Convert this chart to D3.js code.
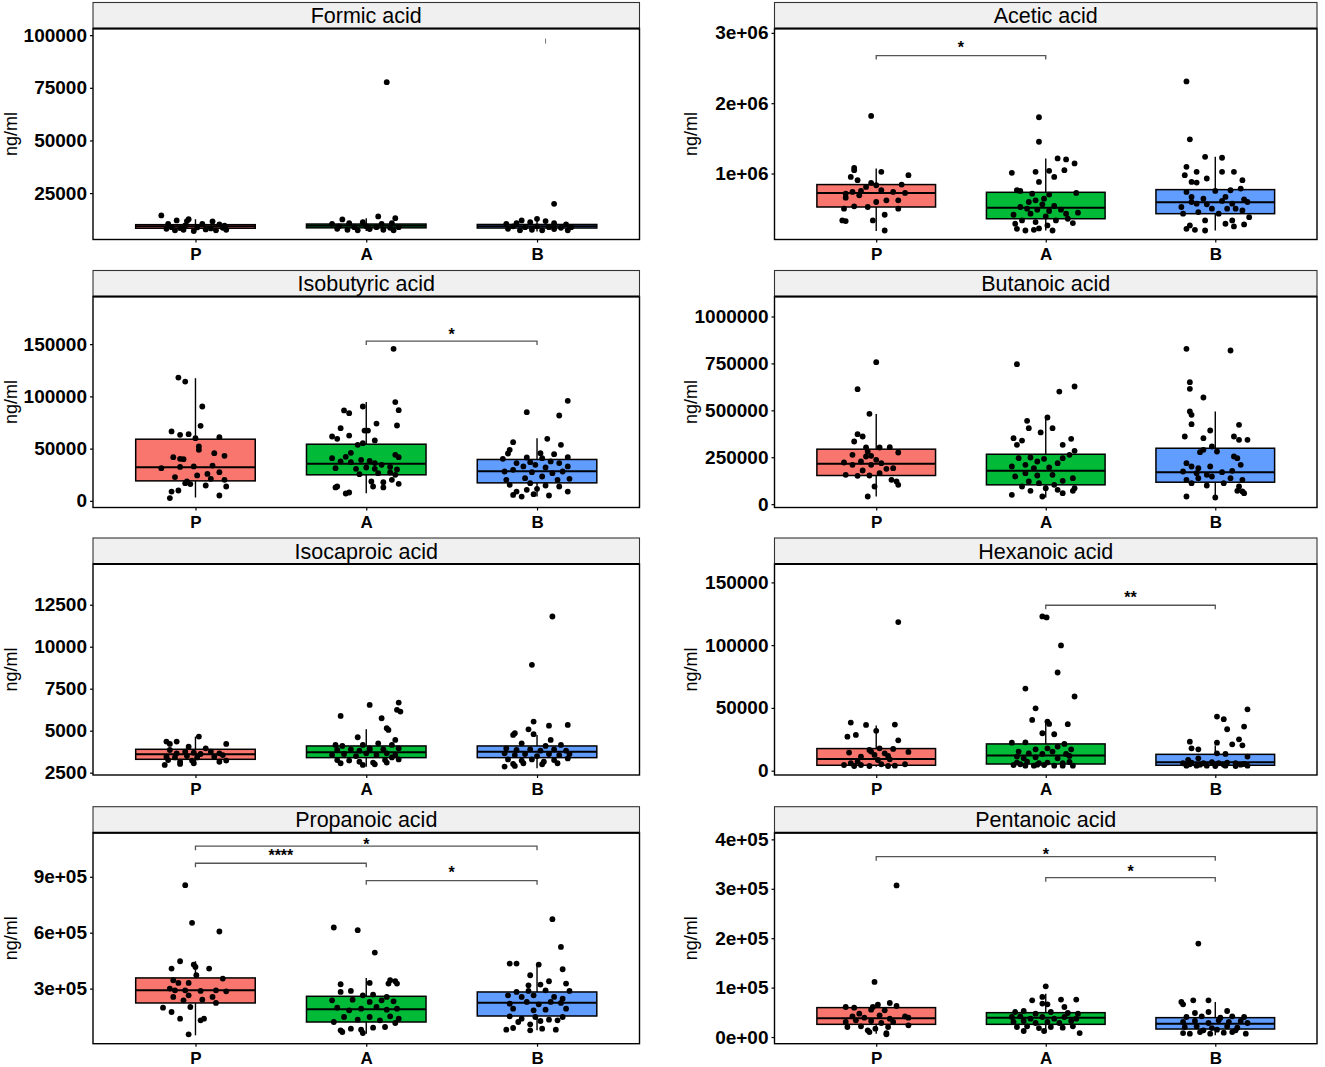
<!DOCTYPE html>
<html><head><meta charset="utf-8">
<script src="https://cdn.jsdelivr.net/npm/d3@7"></script>
<style>
body{margin:0;background:#fff}
svg{display:block}
text{font-family:"Liberation Sans",Arial,Helvetica,sans-serif}
</style>
</head><body>
<svg id="chart" width="1325" height="1067"></svg>
<script>
const acids = ["Formic acid","Acetic acid","Isobutyric acid","Butanoic acid","Isocaproic acid","Hexanoic acid","Propanoic acid","Pentanoic acid"];
const groups = ["P","A","B"];
const groupColors = ["#F8766D","#00BA38","#619CFF"];
const yAxisTitle = "ng/ml";

const yDomains = [[2960,103170],[61900,3062000],[-6380,195600],[-17760,1106500],[2361,14925],[-3460,164650],[4500,1136400],[-13500,413500]];
const yTickValues = [
  [25000,50000,75000,100000],
  [1e6,2e6,3e6],
  [0,50000,100000,150000],
  [0,250000,500000,750000,1000000],
  [2500,5000,7500,10000,12500],
  [0,50000,100000,150000],
  [3e5,6e5,9e5],
  [0,1e5,2e5,3e5,4e5]
];
const yTickLabels = [
  ["25000","50000","75000","100000"],
  ["1e+06","2e+06","3e+06"],
  ["0","50000","100000","150000"],
  ["0","250000","500000","750000","1000000"],
  ["2500","5000","7500","10000","12500"],
  ["0","50000","100000","150000"],
  ["3e+05","6e+05","9e+05"],
  ["0e+00","1e+05","2e+05","3e+05","4e+05"]
];

// [lower whisker, Q1, median, Q3, upper whisker] for P, A, B
const boxStats = [
  [[6500,8300,9200,10000,12600],[7000,8500,9500,10300,13100],[6800,8400,9300,10100,12800]],
  [[181000,524000,724000,843000,1071000],[190000,357000,514000,733000,1214000],[190000,429000,590000,771000,1238000]],
  [[3200,19100,32200,59000,117400],[7300,24900,35400,54200,94500],[4100,17200,28400,39600,60000]],
  [[40800,152700,215000,293000,481000],[35000,103000,177600,266000,467000],[35500,117000,170500,298000,494000]],
  [[2957,3295,3593,3892,4647],[2858,3395,3713,4090,5084],[2758,3395,3752,4090,4746]],
  [[3200,4300,9300,17600,35900],[3200,5300,12000,21300,39100],[3200,4300,6650,13000,20000]],
  [[49300,223000,291000,357300,446900],[58200,120900,189000,258800,357300],[76100,153100,224800,282000,429000]],
  [[6800,25700,37800,59500,68000],[8100,25700,39200,49300,87800],[3400,16200,27000,39200,71000]]
];

// jittered points: [offset in category units, value]
const formicPoints = [
  [[-0.2,14400],[-0.04,12600],[-0.05,11700],[-0.11,12000],[0.1,11500],[-0.16,10400],[-0.06,9600],[0.04,10400],[0.14,10100],[0.17,9500],[-0.17,8050],[-0.12,7300],[-0.07,7600],[-0.01,7000],[0.06,7750],[0.12,7300],[0.18,7600],[-0.14,8800],[-0.09,8400],[0.01,8700],[0.09,8200],[0.16,8500]],
  [[0.12,77700],[0.07,13900],[0.17,13100],[-0.14,12500],[-0.2,10400],[-0.1,10700],[-0.02,11200],[0.09,10400],[0.15,10700],[-0.17,8050],[-0.11,7600],[-0.05,7300],[0.02,7900],[0.1,7600],[0.16,7300],[-0.16,9200],[-0.07,8800],[0,9200],[0.06,8800],[0.14,8500],[0.19,8800]],
  [[0.1,19900],[0,12800],[-0.09,12000],[0.05,11700],[-0.18,10400],[-0.12,10700],[-0.04,11200],[0.1,10700],[0.17,10100],[-0.17,8050],[-0.1,7300],[-0.03,7600],[0.03,7300],[0.1,7900],[0.18,7300],[-0.14,9200],[-0.07,8800],[0,9200],[0.07,8800],[0.14,8500],[0.2,8800]]
];
const aceticPoints = [
  [[-0.03,1819000],[-0.13,1081000],[-0.13,1048000],[0.03,1024000],[0.19,976000],[-0.15,952000],[-0.11,905000],[-0.03,867000],[0,833000],[-0.06,810000],[0.15,843000],[-0.18,714000],[-0.14,738000],[-0.09,752000],[0.03,762000],[0.1,738000],[0.17,724000],[-0.18,657000],[-0.1,690000],[0,595000],[0.06,619000],[0.13,619000],[-0.13,533000],[-0.05,524000],[-0.19,500000],[0.13,500000],[0.05,414000],[-0.2,333000],[-0.18,324000],[-0.02,333000],[0.05,190000]],
  [[-0.04,1800000],[-0.04,1452000],[0.07,1214000],[0.12,1200000],[0.17,1143000],[0.11,1048000],[-0.2,1010000],[-0.06,1024000],[0.02,1038000],[-0.04,881000],[0.05,952000],[-0.17,762000],[-0.15,752000],[-0.08,714000],[0.02,700000],[0.18,724000],[-0.06,619000],[-0.01,643000],[-0.15,524000],[-0.11,500000],[-0.02,562000],[0.05,538000],[0.09,486000],[0.12,429000],[0.19,443000],[-0.19,414000],[-0.09,429000],[0,390000],[-0.14,333000],[-0.06,310000],[0.06,333000],[0.13,357000],[-0.17,214000],[-0.12,190000],[-0.07,200000],[-0.04,219000],[0.04,190000],[-0.18,286000],[0.01,262000],[0.16,295000],[-0.05,486000],[0.02,467000],[-0.1,595000]],
  [[-0.17,2310000],[-0.15,1486000],[-0.06,1238000],[0.04,1224000],[-0.17,1095000],[-0.11,1024000],[-0.18,976000],[0.04,1024000],[0.11,1024000],[-0.05,929000],[-0.14,881000],[-0.11,871000],[0.16,905000],[-0.17,738000],[0,752000],[0.09,762000],[0.15,786000],[-0.14,667000],[-0.07,643000],[0.06,667000],[0.17,633000],[-0.14,595000],[-0.11,571000],[-0.05,562000],[0.04,610000],[0.1,571000],[0.19,595000],[-0.2,524000],[-0.02,500000],[0.07,500000],[0.12,500000],[-0.19,429000],[-0.1,452000],[0.02,429000],[0.16,476000],[-0.06,333000],[0.1,333000],[0.2,380000],[-0.15,262000],[0.06,286000],[0.17,276000],[-0.17,214000],[-0.12,200000],[-0.06,190000],[0.11,248000]]
];
const isobutyricPoints = [
  [[-0.1,118000],[-0.06,114200],[0.04,90300],[0.03,71800],[-0.14,66400],[-0.09,63200],[-0.04,63800],[0,60000],[0.14,60900],[0.02,52000],[0.02,48800],[-0.13,41800],[-0.09,40200],[-0.07,39900],[0.11,45600],[0.17,43100],[-0.2,31300],[-0.09,32500],[-0.01,32900],[0.1,33800],[-0.12,22700],[0.01,24300],[0.07,25800],[0.14,27400],[-0.06,16900],[0.09,21100],[0.17,20100],[-0.1,9900],[-0.14,8900],[0.06,14700],[0.18,13700],[-0.15,2600],[0.14,5100],[-0.05,18500],[-0.03,16000]],
  [[0.16,145500],[0.17,94500],[0.19,86800],[-0.02,90300],[-0.13,86500],[-0.1,83900],[0.06,74000],[0.18,72100],[-0.15,69600],[-0.1,62500],[-0.2,61600],[-0.17,59400],[-0.01,67300],[0.01,67300],[0.05,57800],[-0.05,53600],[-0.02,55200],[-0.09,46000],[-0.12,42100],[0.17,44000],[0.19,41800],[-0.2,40800],[-0.15,37700],[-0.09,37000],[-0.03,39200],[0.02,38300],[0.05,36100],[0.09,34500],[0.14,32500],[-0.18,31300],[-0.06,30600],[0,31900],[0.05,30600],[0.18,30000],[-0.04,25500],[0.07,26500],[0.14,27100],[0.17,24900],[0.03,18500],[0.1,17900],[0.15,20100],[0.19,16300],[-0.17,13700],[-0.18,12800],[0.04,13700],[0.1,12800],[-0.1,8000],[-0.12,7000]],
  [[0.18,95700],[-0.06,84900],[0.13,81700],[-0.14,56200],[0.06,59400],[0.14,53600],[-0.16,48800],[-0.17,45300],[0.02,45600],[0.1,44700],[-0.2,40200],[-0.06,41500],[0.03,40800],[0.18,41800],[-0.12,36100],[-0.04,37000],[0.08,37700],[0.13,36100],[-0.08,32900],[-0.01,34500],[0.05,31900],[0.18,32900],[-0.19,28100],[-0.14,29700],[-0.03,27400],[0.09,26500],[0.15,28100],[-0.18,20100],[-0.07,21700],[0.03,23300],[0.12,20100],[0.19,21100],[-0.16,15300],[-0.04,16900],[0.05,14700],[0.13,13700],[-0.12,8900],[-0.06,10500],[0,11500],[0.18,8900],[-0.14,5700],[-0.09,4100],[-0.02,6400],[0.07,5100]]
];
const butanoicPoints = [
  [[0,756600],[-0.11,612700],[-0.04,481300],[-0.11,373000],[-0.08,360500],[-0.13,334000],[-0.06,302000],[0.02,302000],[0.08,303700],[-0.05,280600],[0.13,275300],[-0.03,257500],[-0.19,222000],[-0.14,209600],[-0.09,227300],[-0.03,209600],[0,236200],[0.03,218400],[0.1,191800],[-0.18,156300],[-0.11,151000],[-0.04,152700],[0.02,165200],[0.09,129600],[0.12,120800],[0.13,103000],[-0.01,94100],[-0.05,40800],[-0.14,262900],[-0.06,254000],[0.06,188300],[-0.08,179400]],
  [[-0.17,746000],[0.17,627000],[0.08,600000],[0.01,461800],[-0.11,444000],[-0.1,405000],[0.04,405000],[-0.03,382000],[-0.19,351600],[-0.17,316100],[-0.14,339000],[0.15,348000],[0.1,316100],[0.17,284000],[0.14,263000],[-0.16,245000],[-0.09,248600],[-0.05,227300],[-0.01,241500],[0.07,218400],[0.1,245000],[-0.2,200700],[-0.12,209600],[-0.07,191800],[0.02,195400],[-0.18,147400],[-0.12,165200],[-0.05,152700],[0.04,156300],[0.16,138500],[-0.1,120800],[-0.04,111900],[0.05,103000],[0.1,124300],[-0.14,94100],[0,85200],[0.07,76400],[0.16,71000],[0.17,85200],[-0.2,49700],[-0.09,71000],[-0.02,40800],[0.1,58600]],
  [[-0.17,827600],[0.09,818700],[-0.15,650000],[-0.15,614500],[-0.07,568300],[-0.15,493700],[-0.14,476000],[-0.14,426000],[0.14,422700],[-0.18,360500],[-0.03,392500],[0.11,360500],[-0.07,351600],[0.14,342800],[0.19,342800],[-0.02,307200],[-0.07,289500],[0.01,280600],[-0.09,277100],[0.11,254000],[0.13,245000],[-0.17,218400],[-0.14,200700],[-0.1,191800],[-0.03,200700],[0.15,209600],[-0.19,174000],[-0.11,165200],[-0.05,156300],[0.04,170500],[0.1,177600],[-0.17,129600],[-0.1,138500],[-0.02,147400],[0.09,138500],[0.16,129600],[-0.14,111900],[-0.05,99500],[0.05,111900],[0.14,94100],[0.16,67500],[0.17,58600],[0.13,71000],[-0.17,40800],[0,35500]]
];
const isocaproicPoints = [
  [[0.02,4647],[-0.11,4350],[-0.17,4350],[-0.15,4210],[0.18,4210],[-0.04,4050],[0.06,3950],[-0.15,3850],[-0.11,3650],[-0.06,3750],[-0.01,3690],[0.03,3610],[0.09,3750],[0.14,3650],[0.16,3550],[-0.17,3450],[-0.12,3410],[-0.05,3490],[0.01,3410],[0.11,3450],[-0.16,3250],[-0.09,3150],[-0.02,3220],[0.14,3150],[0.18,3220],[-0.18,2960],[-0.09,3020],[-0.01,3060]],
  [[0.19,6675],[0.02,6535],[0.18,6240],[0.2,6140],[-0.15,5880],[0.09,5740],[0.12,5145],[0.13,5045],[-0.05,4610],[0.17,4450],[-0.18,4150],[-0.14,4090],[-0.02,4150],[0.07,4250],[0.15,4150],[-0.17,3850],[-0.09,3890],[-0.04,3810],[0.02,3850],[0.1,3890],[0.19,3950],[-0.2,3550],[-0.13,3610],[-0.06,3490],[0,3650],[0.06,3550],[0.12,3650],[0.17,3550],[-0.17,3250],[-0.1,3220],[-0.04,3150],[0.04,3100],[0.11,3250],[0.19,3290],[-0.15,3060],[-0.02,2960],[0.05,3000],[0.12,3100],[0.02,3950],[0.15,3410]],
  [[0.09,11800],[-0.03,8920],[-0.02,5540],[0.18,5340],[0.07,5300],[-0.05,5080],[-0.02,4790],[-0.13,4850],[-0.14,4750],[0.08,4450],[-0.09,4250],[0.05,4090],[0.14,4150],[-0.18,3950],[-0.12,3850],[-0.04,3890],[0.02,3810],[0.1,3890],[0.17,3810],[-0.19,3650],[-0.13,3550],[-0.07,3610],[0,3490],[0.07,3610],[0.13,3550],[0.19,3610],[-0.17,3290],[-0.09,3220],[-0.03,3290],[0.04,3150],[0.1,3250],[0.18,3350],[-0.14,3020],[-0.08,3060],[0.03,3000],[0.12,3060],[-0.19,2860],[-0.13,2900]]
];
const hexanoicPoints = [
  [[0.13,118400],[-0.15,38300],[-0.06,36400],[0.11,36700],[-0.17,27100],[-0.12,28500],[0,31700],[0.13,24200],[0.1,17300],[0.02,17800],[-0.04,16500],[-0.16,14400],[-0.03,15200],[0.19,14900],[0.05,13800],[0.07,11700],[-0.09,11200],[-0.01,12500],[-0.11,7200],[0.01,8500],[0.08,9000],[-0.19,4500],[-0.15,5900],[-0.09,4500],[-0.04,3700],[0.03,5100],[0.11,4000],[0.17,5100],[-0.13,3700],[0.07,3700]],
  [[-0.02,122900],[0.005,122100],[0.09,99800],[0.07,78200],[-0.12,65400],[0.17,59100],[-0.06,49700],[-0.08,40400],[0.01,39100],[0.02,37200],[0.13,37000],[-0.02,29800],[0.05,29000],[-0.2,22300],[-0.12,22600],[0.11,21300],[-0.06,17000],[0.01,17800],[0.07,19200],[0.15,17000],[-0.16,15200],[-0.1,13800],[-0.02,13300],[0.04,15200],[0.12,13300],[-0.17,11200],[-0.13,9800],[-0.06,10600],[0.07,9800],[0.14,11700],[-0.17,6400],[-0.11,7200],[-0.04,5900],[0.01,6400],[0.1,5900],[0.14,6900],[-0.19,4500],[-0.12,4000],[-0.07,4000],[-0.01,4500],[0.05,4000],[0.1,4000],[0.16,4000],[-0.15,5100],[-0.05,4800]],
  [[0.19,48900],[0.01,43100],[0.05,41000],[0.07,33000],[0.17,35100],[0.14,25000],[-0.15,23100],[0.01,22300],[0.16,20200],[0.1,21000],[-0.14,17800],[-0.1,17000],[0.01,13800],[0.06,13300],[-0.16,8500],[-0.1,9800],[0.19,11200],[-0.19,5900],[-0.14,6400],[-0.07,5900],[-0.02,6700],[0.02,5900],[0.07,6400],[0.12,5900],[0.17,5300],[-0.17,4000],[-0.11,4000],[-0.05,4000],[0,3700],[0.06,4000],[0.12,3700],[0.19,4000],[-0.15,5100],[0.05,4800],[0.15,4800],[-0.09,4800]]
];
const propanoicPoints = [
  [[-0.06,855000],[-0.02,652800],[0.14,606300],[-0.09,446900],[-0.01,429000],[0,416400],[-0.14,407500],[0.08,407500],[0.005,371600],[-0.13,344800],[-0.1,330400],[-0.04,330400],[0.16,353700],[-0.15,300000],[-0.12,291000],[-0.06,291000],[0.03,287500],[0.12,291000],[0.18,285700],[-0.13,255200],[-0.04,264200],[0.1,255200],[-0.07,237300],[0.04,240900],[0.12,223000],[-0.19,197900],[-0.14,174600],[-0.03,201500],[-0.09,138800],[0.03,129900],[0.05,138800],[-0.04,54600]],
  [[-0.19,627800],[-0.05,613400],[0.05,493400],[0.02,330400],[-0.15,323300],[0.14,344800],[0.17,339400],[0.13,326900],[0.18,326900],[-0.09,287500],[-0.15,282100],[-0.02,264200],[0.04,267800],[0.12,255200],[-0.2,237300],[-0.08,240900],[0.02,228400],[0.09,237300],[0.16,232000],[-0.17,197900],[-0.1,183600],[-0.03,192500],[0.06,201500],[0.12,187200],[0.18,192500],[-0.19,120900],[-0.13,147800],[-0.05,133600],[0.02,147800],[0.08,129900],[0.14,151400],[0.19,138800],[-0.15,76100],[-0.09,85100],[-0.03,79700],[0.04,90500],[0.11,94000],[0.17,115500],[-0.14,67200],[-0.02,61800]],
  [[0.09,672500],[0.14,523900],[-0.16,434300],[-0.12,434300],[0.01,429000],[0.15,403900],[-0.04,371600],[0.07,339400],[0.17,326900],[-0.05,317900],[0.02,321500],[-0.12,282100],[-0.05,287500],[0.05,291000],[0.19,287500],[-0.17,264200],[-0.09,255200],[-0.02,264200],[0.1,255200],[0.15,246200],[-0.16,219400],[-0.06,228400],[0.01,215800],[0.08,228400],[0.14,223000],[-0.14,192500],[-0.02,183600],[0.05,187200],[0.17,192500],[-0.16,151400],[-0.09,138800],[-0.01,147800],[0.07,133600],[0.15,147800],[-0.11,120900],[0.02,126300],[0.12,129900],[-0.18,79700],[-0.14,88700],[-0.04,108400],[0.03,85100],[0.11,79700],[-0.04,76100]]
];
const pentanoicPoints = [
  [[0.12,306800],[-0.01,111500],[-0.18,60800],[-0.13,59500],[-0.02,60800],[0.01,65500],[0.08,68900],[0.12,62800],[-0.1,47300],[-0.03,55400],[0.05,54100],[-0.14,41900],[-0.07,39200],[0.02,43900],[0.08,37200],[0.17,41900],[0.19,39200],[-0.18,30400],[-0.12,33800],[-0.03,32400],[0.03,28400],[0.1,30400],[-0.17,20300],[-0.09,21600],[-0.005,16900],[0.07,20300],[0.19,23600],[-0.04,10100],[0.06,8100],[0.06,5400],[-0.05,13500]],
  [[0,102700],[-0.02,81100],[-0.08,74300],[0.09,75700],[0.18,75700],[0.01,66200],[-0.02,67600],[0.11,60800],[-0.18,50700],[-0.13,52700],[-0.06,47300],[0.03,50700],[0.13,48600],[0.19,47300],[-0.2,40500],[-0.15,41900],[-0.09,37200],[-0.02,40500],[0.05,37200],[0.11,40500],[0.18,37200],[-0.19,30400],[-0.13,32400],[-0.06,28400],[0.01,30400],[0.08,28400],[0.15,32400],[-0.17,20300],[-0.11,21600],[-0.04,18200],[0.03,20300],[0.1,18900],[0.16,21600],[-0.13,12200],[-0.01,12200],[0.2,8100]],
  [[-0.1,189200],[-0.2,71000],[-0.13,74300],[-0.04,74300],[-0.19,66200],[0.07,52700],[-0.04,50700],[-0.12,48600],[-0.17,40500],[-0.08,41900],[0.03,39200],[0.1,41900],[0.17,40500],[-0.19,30400],[-0.12,32400],[-0.04,28400],[0.02,33800],[0.08,30400],[0.15,32400],[0.19,28400],[-0.18,20300],[-0.11,21600],[-0.02,18200],[0.07,21600],[0.13,18900],[-0.19,8100],[-0.15,6800],[-0.09,10100],[-0.03,6800],[0.05,8800],[0.1,10100],[0.18,6800],[-0.07,13500],[0.01,14900],[0.12,13500]]
];
const allPoints = [formicPoints,aceticPoints,isobutyricPoints,butanoicPoints,isocaproicPoints,hexanoicPoints,propanoicPoints,pentanoicPoints];

// significance brackets: [group i, group j, bracket value, label value, label]
const sigBrackets = [
  [],
  [[0,1,2677000,2843000,"*"]],
  [[1,2,152950,162860,"*"]],
  [],
  [],
  [[1,2,131800,140900,"**"]],
  [[0,2,1064000,1096000,"*"],[0,1,972600,1036000,"****"],[1,2,878800,940800,"*"]],
  [[0,2,365000,377000,"*"],[1,2,322400,342600,"*"]]
];
// small stray mark in the Formic panel: [group, offset, value]
const formicMarks = [[2,0.05,97200]];

// ---------------- layout ----------------
const svg = d3.select("#chart");
const colX = [[93,639.5],[774.5,1317]];
const rowTop = [2.5,270.5,538,806.7];
const stripH = 26, panelH = 211;
const boxWidth = 0.7, tipLen = 4;

acids.forEach((name,i)=>{
  const col = i%2, row = Math.floor(i/2);
  const [x0,x1] = colX[col];
  const sTop = rowTop[row];
  const pTop = sTop + stripH, pBot = pTop + panelH;
  const g = svg.append("g");

  const x = d3.scalePoint().domain(groups).range([x0,x1]).padding(0.6);
  const step = x.step();
  const y = d3.scaleLinear().domain(yDomains[i]).range([pBot,pTop]);

  g.append("rect").attr("x",x0).attr("y",pTop).attr("width",x1-x0).attr("height",panelH).attr("fill","#fff");

  // boxes
  boxStats[i].forEach((s,k)=>{
    const cx = x(groups[k]);
    const hw = boxWidth*step/2;
    g.append("line").attr("x1",cx).attr("x2",cx).attr("y1",y(s[0])).attr("y2",y(s[1])).attr("stroke","#000").attr("stroke-width",1.4);
    g.append("line").attr("x1",cx).attr("x2",cx).attr("y1",y(s[3])).attr("y2",y(s[4])).attr("stroke","#000").attr("stroke-width",1.4);
    g.append("rect").attr("x",cx-hw).attr("width",2*hw).attr("y",y(s[3])).attr("height",Math.max(0,y(s[1])-y(s[3])))
      .attr("fill",groupColors[k]).attr("stroke","#000").attr("stroke-width",1.5);
    g.append("line").attr("x1",cx-hw).attr("x2",cx+hw).attr("y1",y(s[2])).attr("y2",y(s[2])).attr("stroke","#000").attr("stroke-width",2);
  });

  // jitter points
  allPoints[i].forEach((pts,k)=>{
    g.selectAll(null).data(pts).enter().append("circle")
      .attr("cx",d=>x(groups[k])+d[0]*step).attr("cy",d=>y(d[1])).attr("r",2.9).attr("fill","#000");
  });

  if(i===0){
    formicMarks.forEach(m=>{
      const mx = x(groups[m[0]])+m[1]*step;
      g.append("line").attr("x1",mx).attr("x2",mx).attr("y1",y(m[2])-2.5).attr("y2",y(m[2])+2.5).attr("stroke","#777").attr("stroke-width",1);
    });
  }

  // brackets
  sigBrackets[i].forEach(b=>{
    const xa = x(groups[b[0]]), xb = x(groups[b[1]]), by = y(b[2]);
    g.append("path").attr("d",`M${xa},${by+tipLen}V${by}H${xb}V${by+tipLen}`).attr("fill","none").attr("stroke","#555").attr("stroke-width",1.3);
    const fs = 16;
    g.append("text").attr("x",(xa+xb)/2).attr("y",y(b[3])+0.58*fs).attr("text-anchor","middle")
      .attr("font-size",fs).attr("font-weight","bold").attr("fill","#000").text(b[4]);
  });

  // panel border
  g.append("rect").attr("x",x0).attr("y",pTop).attr("width",x1-x0).attr("height",panelH).attr("fill","none").attr("stroke","#000").attr("stroke-width",1.4);

  // strip
  g.append("rect").attr("x",x0).attr("y",sTop).attr("width",x1-x0).attr("height",stripH).attr("fill","#F0F0F0").attr("stroke","#333").attr("stroke-width",1.1);
  g.append("line").attr("x1",x0).attr("x2",x1).attr("y1",pTop).attr("y2",pTop).attr("stroke","#000").attr("stroke-width",2);
  g.append("text").attr("x",(x0+x1)/2).attr("y",pTop-5.5).attr("text-anchor","middle").attr("font-size",21.5).attr("fill","#000").text(name);

  // y axis
  const ya = g.append("g").attr("transform",`translate(${x0},0)`)
    .call(d3.axisLeft(y).tickValues(yTickValues[i]).tickFormat((d,j)=>yTickLabels[i][j]).tickSize(3).tickPadding(3));
  ya.select(".domain").remove();
  ya.selectAll("line").attr("stroke","#000").attr("stroke-width",1.2);
  ya.selectAll("text").attr("font-size",19).attr("font-weight","bold").attr("fill","#000").attr("font-family",null);

  // x axis
  const xa = g.append("g").attr("transform",`translate(0,${pBot})`)
    .call(d3.axisBottom(x).tickSize(3).tickPadding(5));
  xa.select(".domain").remove();
  xa.selectAll("line").attr("stroke","#000").attr("stroke-width",1.2);
  xa.selectAll("text").attr("font-size",17).attr("font-weight","bold").attr("fill","#000").attr("font-family",null);

  // y title
  const tx = col===0 ? 17 : 697;
  g.append("text").attr("transform",`translate(${tx},${(pTop+pBot)/2}) rotate(-90)`).attr("text-anchor","middle")
    .attr("font-size",18).attr("fill","#000").text(yAxisTitle);
});
</script>
</body></html>
